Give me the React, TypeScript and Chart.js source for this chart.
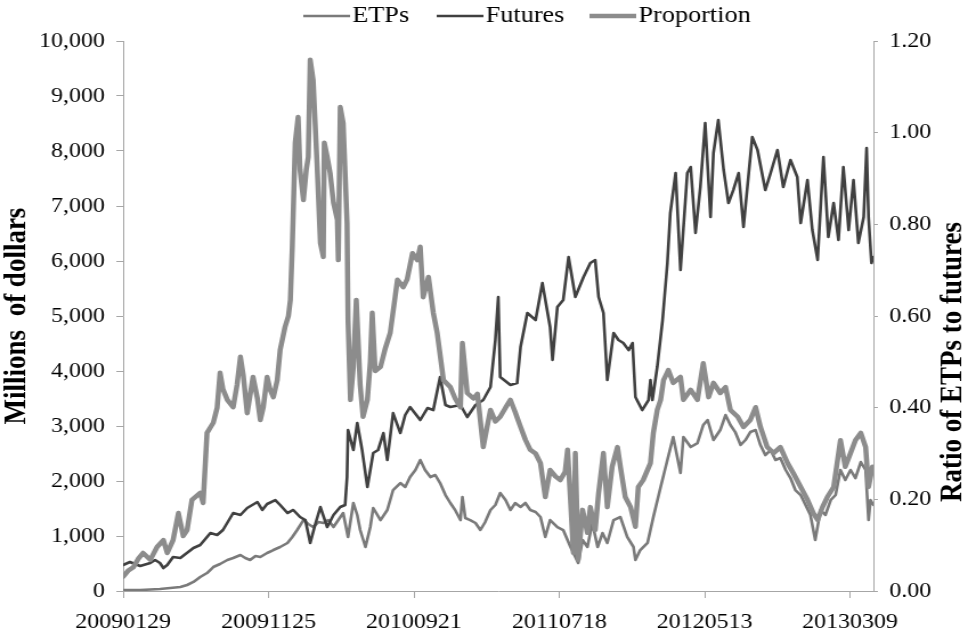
import { useEffect, useRef } from 'react';
import { Chart, registerables } from 'chart.js';

Chart.register(...registerables);

const tickDays = [0, 300, 600, 900, 1200, 1500];
const tickLabels = ['20090129', '20091125', '20100921', '20110718', '20120513', '20130309'];

const etpDays = [0,35,76,97,118,132,145,159,173,186,200,215,227,242,252,262,273,283,297,310,324,339,349,359,372,382,392,403,413,423,434,444,454,464,475,483,489,500,510,516,531,545,557,572,582,592,603,613,623,634,644,654,665,675,685,696,700,706,716,727,737,747,758,768,778,789,799,809,820,830,840,851,861,871,881,896,908,923,933,939,948,958,968,979,989,999,1012,1026,1040,1053,1057,1067,1082,1094,1109,1123,1135,1150,1156,1171,1185,1197,1206,1218,1232,1243,1253,1263,1274,1284,1294,1305,1315,1325,1336,1346,1356,1367,1377,1387,1398,1408,1418,1428,1439,1449,1460,1470,1480,1490,1501,1511,1522,1532,1538,1542,1548];
const etpValues = [18,18,36,55,73,109,164,255,327,436,491,564,600,654,600,564,636,618,691,745,800,873,982,1109,1290,1218,1163,1254,1236,1290,1163,1290,1418,982,1600,1382,1109,800,1163,1509,1290,1473,1836,1963,1891,2072,2200,2382,2200,2072,2109,1963,1745,1600,1473,1290,1709,1327,1290,1236,1109,1254,1473,1564,1782,1654,1473,1600,1527,1600,1473,1436,1345,982,1290,1163,1109,800,618,509,927,800,1236,800,1054,873,1290,1345,982,800,564,745,873,1345,1891,2382,2800,2145,2800,2618,2690,3018,3109,2745,2927,3200,3018,2890,2654,2745,2890,2927,2654,2472,2563,2382,2418,2200,2054,1836,1745,1564,1382,927,1473,1382,1654,1745,2200,2018,2200,2054,2345,2200,1290,1654,1564];

const futDays = [0,14,35,56,66,76,83,91,103,118,145,159,180,194,206,227,242,256,277,287,297,314,324,339,351,365,376,386,396,407,421,434,448,458,462,464,475,483,493,504,516,526,537,545,557,572,582,592,613,628,640,654,665,675,696,710,727,743,758,768,774,778,799,813,820,834,851,865,881,886,896,908,919,933,950,964,974,981,991,999,1012,1022,1032,1043,1051,1057,1071,1084,1088,1092,1102,1113,1123,1129,1140,1150,1164,1171,1181,1191,1201,1212,1218,1228,1239,1249,1259,1270,1280,1298,1309,1325,1336,1350,1362,1377,1391,1398,1412,1422,1433,1445,1455,1466,1476,1486,1497,1507,1517,1528,1534,1538,1544,1548];
const futValues = [473,527,455,509,564,509,418,473,618,600,782,836,1054,1018,1109,1418,1382,1509,1618,1473,1582,1654,1564,1418,1473,1345,1290,873,1200,1527,1163,1382,1527,1564,2072,2927,2563,3054,2563,1891,2509,2563,2872,2382,3236,2872,3200,3345,3109,3327,3290,3890,3381,3345,3381,3163,3381,3472,3709,4563,5345,3890,3745,3781,4436,5054,4927,5600,4800,4200,5163,5290,6072,5345,5709,5963,6018,5345,5054,3836,4690,4563,4509,4380,4509,3527,3290,3472,3836,3472,4072,4927,5963,6872,7600,5836,7600,7709,6509,7345,8509,6800,7963,8563,7654,7054,7290,7600,6618,8254,8018,7290,7600,8018,7345,7836,7527,6690,7472,6563,6018,7890,6436,7054,6381,7709,6563,7472,6327,6800,8054,6800,5963,6072];

const propDays = [0,10,21,31,41,56,70,83,91,103,114,124,132,142,159,165,173,186,194,200,206,215,227,235,242,248,256,268,277,283,289,297,303,310,318,324,334,341,345,349,355,361,365,372,378,382,386,392,400,407,413,415,421,427,434,442,444,448,454,462,464,469,475,481,489,495,504,510,514,520,531,541,551,566,578,586,597,607,613,619,630,640,648,661,675,685,696,700,710,723,731,743,751,758,768,778,789,799,809,820,830,840,851,861,871,881,892,902,912,917,923,929,933,939,948,958,964,974,981,991,999,1009,1020,1026,1036,1047,1057,1063,1073,1088,1094,1102,1109,1115,1125,1135,1150,1156,1171,1185,1197,1208,1218,1232,1243,1253,1268,1280,1294,1305,1315,1329,1342,1356,1371,1383,1398,1412,1424,1433,1443,1453,1466,1480,1490,1501,1511,1522,1532,1538,1546,1548];
const propValues = [0.031,0.044,0.052,0.070,0.083,0.068,0.096,0.111,0.083,0.111,0.170,0.120,0.133,0.199,0.214,0.192,0.345,0.367,0.400,0.476,0.440,0.417,0.401,0.450,0.511,0.470,0.388,0.467,0.420,0.373,0.400,0.467,0.440,0.423,0.460,0.526,0.576,0.600,0.635,0.751,0.978,1.034,0.919,0.853,0.920,0.947,1.159,1.115,0.934,0.759,0.729,0.978,0.947,0.912,0.847,0.810,0.722,1.056,1.021,0.803,0.591,0.417,0.489,0.635,0.450,0.380,0.417,0.500,0.607,0.480,0.489,0.530,0.563,0.679,0.663,0.680,0.737,0.722,0.751,0.641,0.685,0.607,0.563,0.460,0.445,0.420,0.401,0.541,0.432,0.420,0.430,0.314,0.358,0.395,0.370,0.380,0.400,0.417,0.390,0.358,0.330,0.308,0.300,0.279,0.205,0.264,0.250,0.242,0.260,0.308,0.199,0.083,0.301,0.068,0.177,0.127,0.183,0.133,0.214,0.301,0.183,0.271,0.314,0.271,0.205,0.183,0.140,0.227,0.242,0.279,0.345,0.395,0.417,0.460,0.482,0.454,0.467,0.417,0.439,0.417,0.497,0.423,0.454,0.432,0.445,0.395,0.380,0.358,0.373,0.401,0.358,0.314,0.301,0.314,0.279,0.257,0.227,0.199,0.170,0.155,0.183,0.205,0.227,0.329,0.271,0.301,0.329,0.345,0.314,0.227,0.271,0.260];

const leftTitle = 'Millions  of dollars';
const rightTitle = 'Ratio of ETPs to futures';

const FONT = "'Liberation Serif', 'Times New Roman', serif";
const AXIS_GRAY = '#a6a6a6';
// the reference is horizontally stretched relative to its text height
const STRETCH = 1.14;
const CW = Math.round(968 / STRETCH);
const CH = 630;

const toPoints = (days: number[], vals: number[]) => days.map((d, i) => ({ x: d, y: vals[i] }));

const legendX = [266, 383, 517];

const decorPlugin = {
  id: 'decor',
  afterDraw(chart: any) {
    const { ctx } = chart;
    ctx.save();
    // legend
    ctx.font = `23px ${FONT}`;
    ctx.textAlign = 'left';
    ctx.textBaseline = 'middle';
    chart.data.datasets.forEach((ds: any, i: number) => {
      const x0 = legendX[i];
      ctx.strokeStyle = ds.borderColor;
      ctx.lineWidth = ds.borderWidth;
      ctx.lineCap = 'butt';
      ctx.beginPath();
      ctx.moveTo(x0, 16);
      ctx.lineTo(x0 + 41, 16);
      ctx.stroke();
      ctx.fillStyle = '#000';
      ctx.fillText(ds.label, x0 + 43, 16);
    });
    // axis titles
    ctx.font = `bold 27px ${FONT}`;
    ctx.fillStyle = '#000';
    ctx.textAlign = 'center';
    ctx.save();
    ctx.translate(15, 316);
    ctx.rotate(-Math.PI / 2);
    ctx.fillText(leftTitle, 0, 0);
    ctx.restore();
    ctx.save();
    ctx.translate(836, 362);
    ctx.rotate(-Math.PI / 2);
    ctx.fillText(rightTitle, 0, 0);
    ctx.restore();
    ctx.restore();
  },
};

export default function App() {
  const ref = useRef<HTMLCanvasElement>(null);
  useEffect(() => {
    document.body.style.margin = '0';
    const canvas = ref.current!;
    const chart = new Chart(canvas, {
      type: 'line',
      data: {
        datasets: [
          {
            label: 'ETPs',
            data: toPoints(etpDays, etpValues),
            borderColor: '#7a7a7a',
            backgroundColor: '#7a7a7a',
            borderWidth: 2.6,
            pointRadius: 0,
            yAxisID: 'y',
            order: 2,
          },
          {
            label: 'Futures',
            data: toPoints(futDays, futValues),
            borderColor: '#404040',
            backgroundColor: '#404040',
            borderWidth: 2.6,
            pointRadius: 0,
            yAxisID: 'y',
            order: 1,
          },
          {
            label: 'Proportion',
            data: toPoints(propDays, propValues),
            borderColor: '#8c8c8c',
            backgroundColor: '#8c8c8c',
            borderWidth: 4.5,
            pointRadius: 0,
            yAxisID: 'y1',
            order: 0,
          },
        ],
      },
      options: {
        animation: false,
        responsive: false,
        devicePixelRatio: 1,
        layout: { padding: { top: 41, left: 0, right: 0, bottom: 0 } },
        elements: { line: { tension: 0, borderJoinStyle: 'round', borderCapStyle: 'round' } },
        plugins: {
          legend: { display: false },
          tooltip: { enabled: false },
        },
        scales: {
          x: {
            type: 'linear',
            min: 0,
            max: 1548,
            afterBuildTicks: (s: any) => {
              s.ticks = tickDays.map((v) => ({ value: v }));
            },
            afterFit: (s: any) => {
              s.height = 39;
            },
            ticks: {
              autoSkip: false,
              maxRotation: 0,
              padding: 12,
              color: '#000',
              font: { family: FONT, size: 21 },
              callback: (v: any) => {
                const i = tickDays.indexOf(Number(v));
                return i >= 0 ? tickLabels[i] : '';
              },
            },
            grid: { drawOnChartArea: false, drawTicks: true, tickLength: 7, color: AXIS_GRAY },
            border: { display: true, color: AXIS_GRAY, width: 1 },
          },
          y: {
            position: 'left',
            min: 0,
            max: 10000,
            afterFit: (s: any) => {
              s.width = 108;
            },
            ticks: {
              stepSize: 1000,
              padding: 10,
              color: '#000',
              font: { family: FONT, size: 21 },
              callback: (v: any) => Number(v).toLocaleString('en-US'),
            },
            grid: { drawOnChartArea: false, drawTicks: true, tickLength: 6, color: AXIS_GRAY },
            border: { display: true, color: AXIS_GRAY, width: 1 },
          },
          y1: {
            position: 'right',
            min: 0,
            max: 1.2,
            afterFit: (s: any) => {
              s.width = 83;
            },
            ticks: {
              stepSize: 0.2,
              padding: 10,
              color: '#000',
              font: { family: FONT, size: 21 },
              callback: (v: any) => Number(v).toFixed(2),
            },
            grid: { drawOnChartArea: false, drawTicks: true, tickLength: 4, color: AXIS_GRAY },
            border: { display: true, color: AXIS_GRAY, width: 1 },
          },
        },
      },
      plugins: [decorPlugin],
    });
    return () => chart.destroy();
  }, []);
  return (
    <div style={{ position: 'absolute', left: 0, top: 0, width: 968, height: 630, overflow: 'hidden' }}>
      <div style={{ width: CW, height: CH, transform: `scaleX(${968 / CW})`, transformOrigin: '0 0' }}>
        <canvas ref={ref} width={CW} height={CH} style={{ width: CW, height: CH, display: 'block' }} />
      </div>
    </div>
  );
}
